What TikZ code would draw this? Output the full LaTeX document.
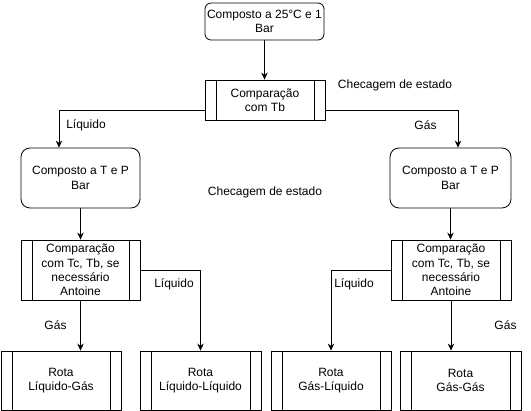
\documentclass[tikz,border=0pt]{standalone}
\usepackage{fontspec}
\setmainfont{Liberation Sans}
\usetikzlibrary{arrows.meta}
\begin{document}
\begin{tikzpicture}[x=1pt,y=-1pt,
  every node/.style={font=\fontsize{12}{14.4}\selectfont, inner sep=0pt},
  rbox/.style={draw, rounded corners=9pt, minimum width=119pt, minimum height=60pt, align=center, line width=0.8pt},
  proc/.style={draw, minimum width=120pt, minimum height=60pt, align=center, line width=0.8pt},
  arr/.style={-{Stealth[length=7pt,width=6.5pt]}, line width=0.8pt},
  lbl/.style={align=center}]
\useasboundingbox (0,0) rectangle (531,411);
% nodes
\node[rbox, rounded corners=6pt, minimum height=37pt] (top) at (264.5,21.5) {Composto a 25°C e 1\\Bar};
\node[proc, minimum height=40pt] (tb) at (265,100) {Comparação\\com Tb};
\node[rbox] (lc) at (80.5,178) {Composto a T e P\\Bar};
\node[rbox, minimum width=121pt] (rc) at (450.5,178) {Composto a T e P\\Bar};
\node[proc, minimum width=119pt] (lcomp) at (80.5,270) {Comparação\\com Tc, Tb, se\\necessário\\Antoine};
\node[proc] (rcomp) at (451,270) {Comparação\\com Tc, Tb, se\\necessário\\Antoine};
\node[proc, minimum height=59pt] (b1) at (61,380.5) {Rota\\Líquido-Gás};
\node[proc, minimum width=121pt, minimum height=59pt] (b2) at (200.5,380.5) {Rota\\Líquido-Líquido};
\node[proc, minimum height=59pt] (b3) at (331,380.5) {Rota\\Gás-Líquido};
\node[proc, minimum width=121pt, minimum height=59pt] (b4) at (460.5,380.5) {Rota\\Gás-Gás};
% inner lines of process boxes
\foreach \n in {tb,lcomp,rcomp,b1,b2,b3,b4}{
  \draw[line width=0.8pt] ([xshift=11.5pt]\n.north west) -- ([xshift=11.5pt]\n.south west);
  \draw[line width=0.8pt] ([xshift=-11.5pt]\n.north east) -- ([xshift=-11.5pt]\n.south east);
}
% labels
\node[lbl] (l1) at (86,125) {Líquido};
\node[lbl] (l2) at (425.5,125) {Gás};
\node[lbl] (c1) at (395,85) {Checagem de estado};
\node[lbl] (c2) at (265,192) {Checagem de estado};
\node[lbl] (l3) at (55.5,325) {Gás};
\node[lbl] (l4) at (174,284) {Líquido};
\node[lbl] (l5) at (354,284) {Líquido};
\node[lbl] (l6) at (505.5,325) {Gás};
% connectors
\draw[arr] (top.south) -- (top.south |- tb.north);
\draw[arr] ([yshift=-10pt]tb.west) -| ([xshift=-21.5pt]lc.north);
\draw[arr] ([yshift=-10pt]tb.east) -| ([xshift=7.5pt]rc.north);
\draw[arr] (lc.south) -- (lc.south |- lcomp.north);
\draw[arr] (rc.south) -- (rc.south |- rcomp.north);
\draw[arr] (lcomp.south) -- (lcomp.south |- b1.north);
\draw[arr] (lcomp.east) -| (b2.north);
\draw[arr] (rcomp.west) -| (b3.north);
\draw[arr] (rcomp.south) -- (rcomp.south |- b4.north);
\end{tikzpicture}
\end{document}
